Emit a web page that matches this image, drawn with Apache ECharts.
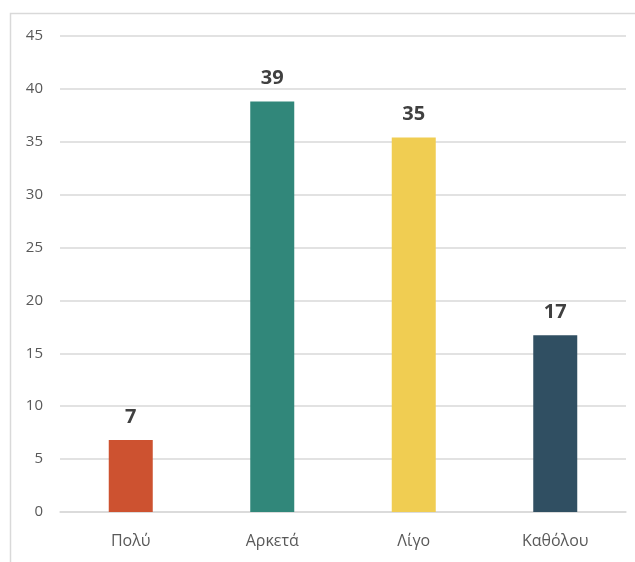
<!DOCTYPE html>
<html>
<head>
<meta charset="utf-8">
<script src="https://cdn.jsdelivr.net/npm/echarts@6/dist/echarts.min.js"></script>
<style>
  html, body { margin: 0; padding: 0; background: #fff; }
  #chart { width: 635px; height: 562px; }
</style>
</head>
<body>
<div id="chart"></div>
<script>
var categories = ['Πολύ', 'Αρκετά', 'Λίγο', 'Καθόλου'];
var values = [6.8, 38.8, 35.4, 16.7];
var barColors = ['#cd5230', '#31877a', '#f0cd52', '#304f62'];
var yTicks = { min: 0, max: 45, interval: 5 };

var myChart = echarts.init(document.getElementById('chart'));

var seriesData = [];
for (var i = 0; i < values.length; i++) {
  seriesData.push({ value: values[i], itemStyle: { color: barColors[i] } });
}

var option = {
  animation: false,
  textStyle: { fontFamily: 'Open Sans' },
  grid: { left: 60, right: 9, top: 36, bottom: 50 },
  graphic: [{
    type: 'rect',
    shape: { x: 10.5, y: 13.5, width: 700, height: 700 },
    style: { fill: 'none', stroke: '#d9d9d9', lineWidth: 1.5 },
    silent: true
  }],
  xAxis: {
    type: 'category',
    data: categories,
    axisTick: { show: false },
    axisLine: { lineStyle: { color: '#d9d9d9', width: 1.5 } },
    axisLabel: { color: '#595959', fontSize: 16, margin: 21 }
  },
  yAxis: {
    type: 'value',
    min: yTicks.min,
    max: yTicks.max,
    interval: yTicks.interval,
    axisLine: { show: false },
    axisTick: { show: false },
    splitLine: { lineStyle: { color: '#d9d9d9', width: 1.5 } },
    axisLabel: { color: '#595959', fontSize: 15, margin: 17 }
  },
  series: [{
    type: 'bar',
    data: seriesData,
    barWidth: 44,
    label: {
      show: true,
      position: 'top',
      distance: 13,
      color: '#404040',
      fontSize: 20,
      fontWeight: 'bold',
      formatter: function (p) { return Math.round(p.value); }
    }
  }]
};
myChart.setOption(option);
</script>
</body>
</html>
